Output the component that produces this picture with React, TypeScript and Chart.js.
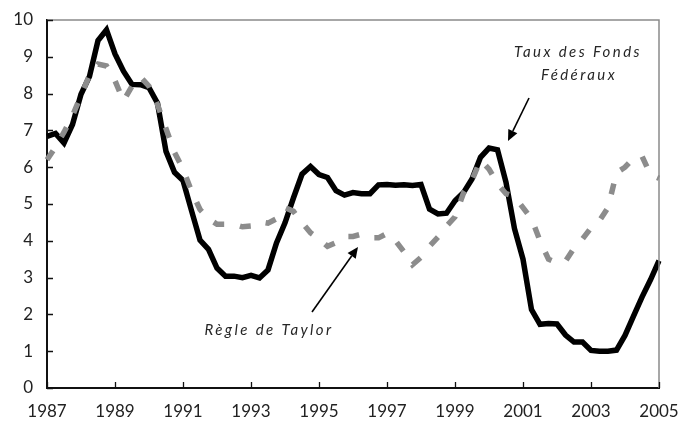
import { useEffect, useRef } from 'react';
import { Chart, registerables } from 'chart.js';

Chart.register(...registerables);

// Quarterly data, 1987 to 2005 (73 quarters)
const fedFunds: number[] = [
  6.84, 6.92, 6.66, 7.16, 7.98, 8.47, 9.44, 9.73, 9.08, 8.61,
  8.25, 8.24, 8.16, 7.74, 6.43, 5.86, 5.64, 4.82, 4.02, 3.77,
  3.26, 3.04, 3.04, 3.0, 3.06, 2.99, 3.21, 3.94, 4.49, 5.17,
  5.81, 6.02, 5.8, 5.72, 5.36, 5.24, 5.31, 5.28, 5.28, 5.52,
  5.53, 5.51, 5.52, 5.5, 5.53, 4.86, 4.73, 4.75, 5.09, 5.31,
  5.68, 6.27, 6.52, 6.47, 5.59, 4.33, 3.5, 2.13, 1.73, 1.75,
  1.74, 1.44, 1.25, 1.25, 1.02, 1.0, 1.0, 1.03, 1.43, 1.95,
  2.47, 2.94, 3.46,
];

const taylorRule: number[] = [
  6.2, 6.55, 6.95, 7.4, 7.95, 8.5, 8.8, 8.75, 8.35, 7.8,
  8.2, 8.45, 8.2, 7.7, 7.05, 6.4, 5.95, 5.35, 4.85, 4.6,
  4.45, 4.45, 4.45, 4.38, 4.4, 4.52, 4.48, 4.6, 4.9, 4.8,
  4.5, 4.22, 4.05, 3.85, 3.95, 4.12, 4.12, 4.18, 4.08, 4.08,
  4.2, 4.0, 3.7, 3.35, 3.55, 3.85, 4.1, 4.4, 4.65, 5.3,
  5.65, 6.2, 5.95, 5.55, 5.28, 5.2, 4.9, 4.6, 4.0, 3.5,
  3.4, 3.45, 3.8, 4.05, 4.35, 4.55, 4.9, 5.85, 6.0, 6.25,
  6.3, 5.8, 5.7,
];

const xTickLabels: string[] = ['1987', '1989', '1991', '1993', '1995', '1997', '1999', '2001', '2003', '2005'];
const quartersPerTick = 8;

const fedLabel: string[] = ['Taux des Fonds', 'Fédéraux'];
const taylorLabel = 'Règle de Taylor';

const FONT = 'Lato, "Open Sans", sans-serif';

const decorPlugin = {
  id: 'decor',
  afterDraw(chart: any) {
    const { ctx, chartArea } = chart;
    const xs = chart.scales.x;
    const ys = chart.scales.y;
    ctx.save();
    // top & right frame
    ctx.strokeStyle = '#8a8a8a';
    ctx.lineWidth = 1.5;
    ctx.beginPath();
    ctx.moveTo(chartArea.left, chartArea.top);
    ctx.lineTo(chartArea.right, chartArea.top);
    ctx.lineTo(chartArea.right, chartArea.bottom);
    ctx.stroke();

    // inside tick marks
    ctx.strokeStyle = '#111';
    ctx.lineWidth = 1.3;
    ctx.beginPath();
    ys.ticks.forEach((t: any) => {
      const y = Math.round(ys.getPixelForValue(t.value)) + 0.5;
      ctx.moveTo(chartArea.left, y);
      ctx.lineTo(chartArea.left + 6, y);
    });
    xTickLabels.forEach((_, i) => {
      const x = Math.round(xs.getPixelForValue(i * quartersPerTick)) + 0.5;
      ctx.moveTo(x, chartArea.bottom);
      ctx.lineTo(x, chartArea.bottom - 6);
    });
    ctx.stroke();

    // annotations
    ctx.fillStyle = '#262626';
    ctx.font = `italic 15px ${FONT}`;
    (ctx as any).letterSpacing = '2.4px';
    ctx.textAlign = 'center';
    ctx.textBaseline = 'middle';
    ctx.fillText(fedLabel[0], 578, 52);
    ctx.fillText(fedLabel[1], 579, 75);
    ctx.fillText(taylorLabel, 269, 330);
    (ctx as any).letterSpacing = '0px';

    const arrow = (x1: number, y1: number, x2: number, y2: number) => {
      const ang = Math.atan2(y2 - y1, x2 - x1);
      const hl = 11;
      const hw = 5;
      const bx = x2 - hl * Math.cos(ang);
      const by = y2 - hl * Math.sin(ang);
      ctx.strokeStyle = '#000';
      ctx.lineWidth = 1.6;
      ctx.beginPath();
      ctx.moveTo(x1, y1);
      ctx.lineTo(bx, by);
      ctx.stroke();
      ctx.fillStyle = '#000';
      ctx.beginPath();
      ctx.moveTo(x2, y2);
      ctx.lineTo(bx + hw * Math.sin(ang), by - hw * Math.cos(ang));
      ctx.lineTo(bx - hw * Math.sin(ang), by + hw * Math.cos(ang));
      ctx.closePath();
      ctx.fill();
    };
    arrow(529, 98, 508, 141);
    arrow(312, 312, 358, 247);
    ctx.restore();
  },
};

export default function App() {
  const canvasRef = useRef<HTMLCanvasElement | null>(null);

  useEffect(() => {
    const canvas = canvasRef.current;
    if (!canvas) return;
    const labels = fedFunds.map((_, i) =>
      i % quartersPerTick === 0 ? xTickLabels[i / quartersPerTick] ?? '' : ''
    );
    const chart = new Chart(canvas, {
      type: 'line',
      data: {
        labels,
        datasets: [
          {
            label: 'Règle de Taylor',
            data: taylorRule,
            borderColor: '#8c8c8c',
            borderWidth: 5.5,
            borderDash: [11, 16],
            borderCapStyle: 'butt',
            pointRadius: 0,
            tension: 0,
            fill: false,
            order: 0,
          },
          {
            label: 'Taux des Fonds Fédéraux',
            data: fedFunds,
            borderColor: '#000',
            borderWidth: 5.5,
            borderJoinStyle: 'miter',
            pointRadius: 0,
            tension: 0,
            fill: false,
            order: 1,
          },
        ],
      },
      options: {
        animation: false,
        responsive: true,
        maintainAspectRatio: false,
        layout: { padding: { top: 20, right: 21, left: 0, bottom: 0 } },
        plugins: {
          legend: { display: false },
          tooltip: { enabled: false },
        },
        scales: {
          x: {
            type: 'category',
            offset: false,
            grid: { display: true, drawOnChartArea: false, drawTicks: false },
            border: { color: '#111', width: 2 },
            ticks: {
              autoSkip: false,
              maxRotation: 0,
              minRotation: 0,
              padding: 13,
              color: '#222',
              font: { family: FONT, size: 17 },
            },
            afterFit: (s: any) => {
              s.height = 33;
              s.paddingLeft = 0;
              s.paddingRight = 0;
            },
          },
          y: {
            min: 0,
            max: 10,
            grid: { display: true, drawOnChartArea: false, drawTicks: false },
            border: { color: '#111', width: 2 },
            ticks: {
              stepSize: 1,
              padding: 14,
              color: '#222',
              font: { family: FONT, size: 17 },
            },
            afterFit: (s: any) => {
              s.width = 47;
              s.paddingTop = 0;
              s.paddingBottom = 0;
            },
          },
        },
      },
      plugins: [decorPlugin],
    });
    return () => chart.destroy();
  }, []);

  return (
    <div style={{ position: 'absolute', left: 0, top: 0, width: 680, height: 421, background: '#fff' }}>
      <canvas ref={canvasRef} />
    </div>
  );
}
